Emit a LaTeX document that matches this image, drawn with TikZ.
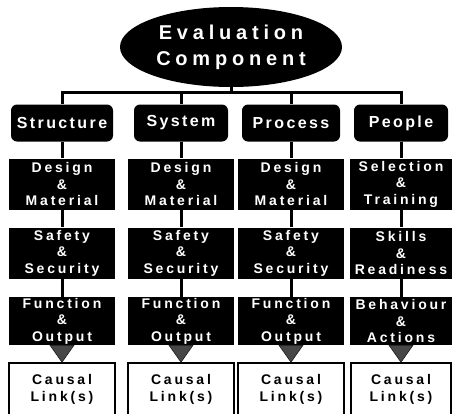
\documentclass[tikz,border=0pt]{standalone}
\usepackage{fontspec}
\usepackage{tikz}
\usetikzlibrary{shapes.geometric, positioning, calc}
\newfontfamily\titlefont[LetterSpace=24]{Liberation Sans}
\newfontfamily\catfont[LetterSpace=15]{Liberation Sans}
\newfontfamily\boxfont[LetterSpace=20]{Liberation Sans}

\tikzset{
  evalnode/.style={ellipse, fill=black, text=white, minimum width=222pt, minimum height=80pt,
    inner sep=0pt, align=center, font=\titlefont\bfseries\fontsize{20}{26}\selectfont},
  catbox/.style={rounded corners=6pt, fill=black, text=white, minimum height=37pt,
    inner sep=0pt, font=\catfont\bfseries\fontsize{16}{18}\selectfont},
  aspectbox/.style={fill=black, text=white, minimum width=106pt, inner sep=0pt,
    align=center, font=\boxfont\bfseries\fontsize{14}{16.5}\selectfont},
  linkbox/.style={draw=black, line width=1.6pt, fill=white, minimum width=106pt,
    minimum height=52pt, inner sep=0pt, align=center,
    font=\boxfont\bfseries\fontsize{14}{17}\selectfont},
  tree/.style={line width=3pt},
  funnel/.style={fill=black!72, draw=black!90, line width=0.6pt}
}

\begin{document}
\begin{tikzpicture}[x=1pt, y=-1pt]
\useasboundingbox (0,0) rectangle (453,413);
\clip (0,0) rectangle (453,413);

% Top
\node[evalnode] (eval) at (231,47) {Evaluation\\Component};
\coordinate (bus) at (231,92);

% Structure
\node[catbox, minimum width=102pt] (struct) at (62,123) {Structure};
\node[aspectbox, minimum height=51pt] (struct-dm) at (62,184) {Design\\\&\\Material};
\node[aspectbox, minimum height=51pt] (struct-ss) at (62,253) {Safety\\\&\\Security};
\node[aspectbox, minimum height=48pt] (struct-fo) at (62,321) {Function\\\&\\Output};
\node[linkbox] (struct-cl) at (62,389) {Causal\\Link(s)};

% System
\node[catbox, minimum width=94pt] (system) at (181,123) {System};
\node[aspectbox, minimum height=51pt] (system-dm) at (181,184) {Design\\\&\\Material};
\node[aspectbox, minimum height=51pt] (system-ss) at (181,253) {Safety\\\&\\Security};
\node[aspectbox, minimum height=48pt] (system-fo) at (181,321) {Function\\\&\\Output};
\node[linkbox] (system-cl) at (181,389) {Causal\\Link(s)};

% Process
\node[catbox, minimum width=98pt] (process) at (291,123) {Process};
\node[aspectbox, minimum height=51pt] (process-dm) at (291,184) {Design\\\&\\Material};
\node[aspectbox, minimum height=51pt] (process-ss) at (291,253) {Safety\\\&\\Security};
\node[aspectbox, minimum height=48pt] (process-fo) at (291,321) {Function\\\&\\Output};
\node[linkbox] (process-cl) at (291,389) {Causal\\Link(s)};

% People
\node[catbox, minimum width=94pt] (people) at (401,123) {People};
\node[aspectbox, minimum width=102pt, minimum height=51pt] (people-st) at (401,184) {Selection\\\&\\Training};
\node[aspectbox, minimum width=102pt, minimum height=51pt] (people-sr) at (401,253) {Skills\\\&\\Readiness};
\node[aspectbox, minimum width=102pt, minimum height=48pt] (people-ba) at (401,321) {Behaviour\\\&\\Actions};
\node[linkbox, minimum width=100pt] (people-cl) at (401,389) {Causal\\Link(s)};

% Tree lines
\draw[tree] (eval.south) -- (bus);
\draw[tree] (struct.north) |- (bus) -| (people.north);
\draw[tree] (system.north) -- (system.north |- bus);
\draw[tree] (process.north) -- (process.north |- bus);

\draw[tree] (struct.south) -- (struct-dm.north);
\draw[tree] (struct-dm.south) -- (struct-ss.north);
\draw[tree] (struct-ss.south) -- (struct-fo.north);
\draw[tree] (system.south) -- (system-dm.north);
\draw[tree] (system-dm.south) -- (system-ss.north);
\draw[tree] (system-ss.south) -- (system-fo.north);
\draw[tree] (process.south) -- (process-dm.north);
\draw[tree] (process-dm.south) -- (process-ss.north);
\draw[tree] (process-ss.south) -- (process-fo.north);
\draw[tree] (people.south) -- (people-st.north);
\draw[tree] (people-st.south) -- (people-sr.north);
\draw[tree] (people-sr.south) -- (people-ba.north);

% Funnels
\filldraw[funnel] ($(struct-fo.south)+(-12,0)$) -- ($(struct-fo.south)+(12,0)$) -- (struct-cl.north) -- cycle;
\filldraw[funnel] ($(system-fo.south)+(-12,0)$) -- ($(system-fo.south)+(12,0)$) -- (system-cl.north) -- cycle;
\filldraw[funnel] ($(process-fo.south)+(-12,0)$) -- ($(process-fo.south)+(12,0)$) -- (process-cl.north) -- cycle;
\filldraw[funnel] ($(people-ba.south)+(-12,0)$) -- ($(people-ba.south)+(12,0)$) -- (people-cl.north) -- cycle;
\end{tikzpicture}
\end{document}
